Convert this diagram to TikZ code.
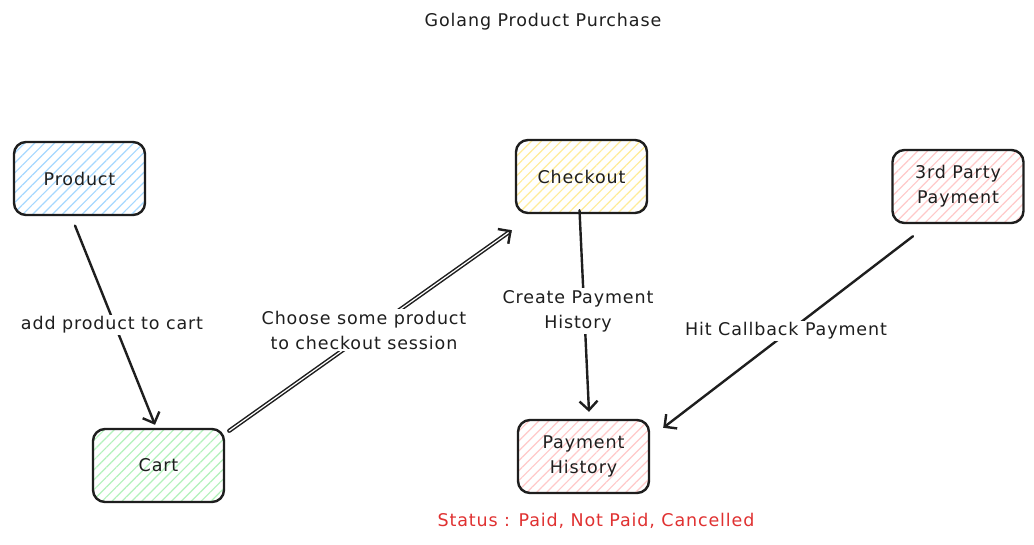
\documentclass[tikz,border=0pt]{standalone}
\usepackage{fontspec}
\setmainfont{DejaVu Sans}[LetterSpace=5]
\usetikzlibrary{arrows.meta,patterns.meta,calc}
\definecolor{ink}{HTML}{1E1E1E}
\definecolor{hblue}{HTML}{A5D8FF}
\definecolor{hyellow}{HTML}{FFEC99}
\definecolor{hpink}{HTML}{FFC9C9}
\definecolor{hgreen}{HTML}{B2F2BB}
\definecolor{sred}{HTML}{E03131}
\tikzset{
  box/.style={draw=ink, line width=2.4pt, rounded corners=12pt,
    minimum width=131pt, minimum height=73pt, align=center,
    pattern={Lines[angle=45,distance=7pt,line width=1.2pt]}},
  conn/.style={draw=ink, line width=2.4pt, line cap=round,
    -{Straight Barb[length=9pt,width=18pt,line width=2.4pt]}},
  lbl/.style={fill=white, inner sep=2pt, align=center, text=ink},
  every node/.style={font=\fontsize{17.5}{25}\selectfont, text=ink}
}
\begin{document}
\begin{tikzpicture}[x=1pt,y=-1pt]
\useasboundingbox[fill=white] (0,0) rectangle (1034,544);

\node[box, pattern color=hblue] (prod) at (79.5,178.5) {Product};
\node[box, pattern color=hyellow] (chk) at (581.5,176.5) {Checkout};
\node[box, pattern color=hpink] (third) at (958,186.5) {3rd Party\\Payment};
\node[box, pattern color=hgreen] (cart) at (158.5,465.5) {Cart};
\node[box, pattern color=hpink] (ph) at (583.5,456.5) {Payment\\History};

\draw[conn] ($(prod.south)+(-4.5,10)$) -- ($(cart.north)+(-3.5,-3)$);
\draw[conn, double=white, double distance=1.2pt, line width=1.5pt,
  -{Straight Barb[length=9pt,width=18pt,line width=2.4pt]}]
  ($(cart.north east)+(4,3)$) -- ($(chk.south west)+(-3,16)$);
\draw[conn] ($(chk.south)+(-2,-4)$) -- ($(ph.north)+(5.5,-7)$);
\draw[conn] ($(third.south)+(-45,12)$) -- ($(ph.north east)+(13,9)$);

\node[lbl] (l1) at (112,325) {add product to cart};
\node[lbl] (l2) at (364,330) {Choose some product\\to checkout session};
\node[lbl] (l3) at (578,311) {Create Payment\\History};
\node[lbl] (l4) at (786,331) {Hit Callback Payment};

\node (title) at (543,22) {Golang Product Purchase};
\node[text=sred] (status) at (596,521) {Status : Paid, Not Paid, Cancelled};
\end{tikzpicture}
\end{document}
